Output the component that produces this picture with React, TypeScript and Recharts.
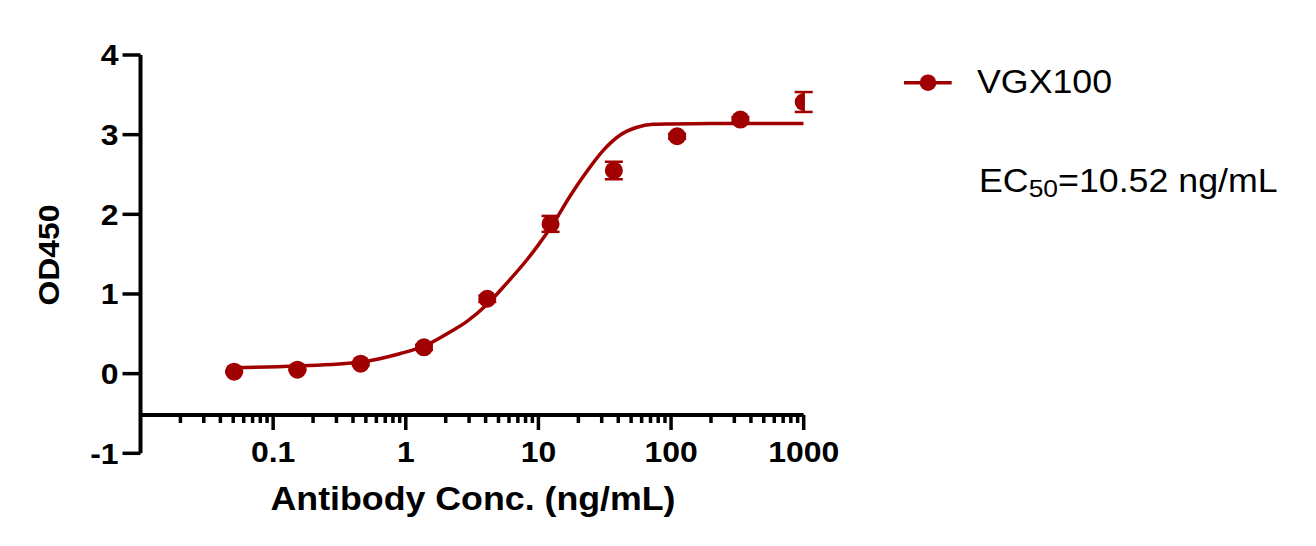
import React from 'react';
import { ComposedChart, Line, Scatter, ErrorBar, XAxis, YAxis, Legend } from 'recharts';

// ---------- data ----------
const CONC = [0.0508, 0.1524, 0.4572, 1.372, 4.115, 12.35, 37.04, 111.1, 333.3, 1000];
const OD_MEAN = [0.025, 0.05, 0.125, 0.33, 0.94, 1.88, 2.55, 2.98, 3.19, 3.41];
const OD_ERR = [0.01, 0.01, 0.02, 0.03, 0.04, 0.1, 0.11, 0.03, 0.03, 0.125];

const FIT_CONC = [0.0508, 0.15, 0.46, 0.9, 1.37, 2.14, 2.86, 4.17, 5.73, 8.11, 9.93, 12.9, 17.2, 23.0, 30.7, 40.9, 54.7, 73.1, 97.6, 200, 1000];
const FIT_OD = [0.075, 0.095, 0.146, 0.25, 0.345, 0.52, 0.65, 0.88, 1.13, 1.42, 1.61, 1.88, 2.22, 2.53, 2.8, 2.99, 3.09, 3.13, 3.135, 3.14, 3.14];

const Y_TICKS = [-1, 0, 1, 2, 3, 4];
const X_MAJOR_TICKS = [0.1, 1, 10, 100, 1000];
const X_MAJOR_LABELS = ['0.1', '1', '10', '100', '1000'];
const X_MINOR_TICKS = [
  0.02, 0.03, 0.04, 0.05, 0.06, 0.07, 0.08, 0.09,
  0.2, 0.3, 0.4, 0.5, 0.6, 0.7, 0.8, 0.9,
  2, 3, 4, 5, 6, 7, 8, 9,
  20, 30, 40, 50, 60, 70, 80, 90,
  200, 300, 400, 500, 600, 700, 800, 900,
];

const SERIES_NAME = 'VGX100';
const EC50_PREFIX = 'EC';
const EC50_SUB = '50';
const EC50_VALUE = '=10.52 ng/mL';
const X_TITLE = 'Antibody Conc. (ng/mL)';
const Y_TITLE = 'OD450';

const points = CONC.map((x, i) => ({ x, y: OD_MEAN[i], err: OD_ERR[i] }));
const curve = FIT_CONC.map((x, i) => ({ x, y: FIT_OD[i] }));

// ---------- layout ----------
const W = 1316;
const H = 546;
const PLOT_LEFT = 140.5;
const PLOT_RIGHT = 803.7;
const Y_TOP = 55;
const Y_BOTTOM = 453.3;
const X_AXIS_Y = 415;
const RED = '#A00000';
const FONT = '"Liberation Sans", Arial, Helvetica, sans-serif';
const SX = 1.1;

const YTick = (props: any) => {
  const { x, y, payload } = props;
  return (
    <text
      transform={`translate(${x},${y + 10.4}) scale(${SX},1)`}
      textAnchor="end"
      fontFamily={FONT}
      fontWeight="bold"
      fontSize={29}
      fill="#000"
    >
      {String(payload.value)}
    </text>
  );
};

const XTick = (props: any) => {
  const { x, y, payload } = props;
  const idx = X_MAJOR_TICKS.indexOf(payload.value);
  const major = idx >= 0;
  return (
    <g>
      <line x1={x} x2={x} y1={y} y2={y + (major ? 15 : 8)} stroke="#000" strokeWidth={3.5} />
      {major && (
        <text
          transform={`translate(${x},${y + 46.7}) scale(${SX},1)`}
          textAnchor="middle"
          fontFamily={FONT}
          fontWeight="bold"
          fontSize={29}
          fill="#000"
        >
          {X_MAJOR_LABELS[idx]}
        </text>
      )}
    </g>
  );
};

const YTitle = () => (
  <text
    transform={`translate(59.3,255) rotate(-90) scale(${SX},1)`}
    textAnchor="middle"
    fontFamily={FONT}
    fontWeight="bold"
    fontSize={29}
    fill="#000"
  >
    {Y_TITLE}
  </text>
);

const XTitle = () => (
  <text
    transform={`translate(473,510) scale(${SX},1)`}
    textAnchor="middle"
    fontFamily={FONT}
    fontWeight="bold"
    fontSize={32.5}
    fill="#000"
  >
    {X_TITLE}
  </text>
);

const LegendContent = () => (
  <svg width={W} height={H} style={{ display: 'block', position: 'absolute', left: 0, top: 0 }}>
    <line x1={904} x2={951.7} y1={82.7} y2={82.7} stroke={RED} strokeWidth={3.5} />
    <circle cx={928} cy={82.7} r={8.3} fill={RED} />
    <text
      transform={`translate(977,93.3) scale(${SX},1)`}
      fontFamily={FONT}
      fontSize={32.5}
      fill="#000"
    >
      {SERIES_NAME}
    </text>
    <text
      transform={`translate(979,191.7) scale(${SX},1)`}
      fontFamily={FONT}
      fontSize={32.5}
      fill="#000"
    >
      {EC50_PREFIX}
      <tspan fontSize={24} dy={5.6}>{EC50_SUB}</tspan>
      <tspan dy={-5.6}>{EC50_VALUE}</tspan>
    </text>
  </svg>
);

const Dot = (props: any) => {
  const { cx, cy } = props;
  if (cx == null || cy == null) return null;
  return <circle cx={cx} cy={cy} r={9} fill={RED} />;
};

export default function App() {
  return (
    <div style={{ position: 'absolute', left: 0, top: 0, width: W, height: H, background: '#fff' }}>
      <div style={{ position: 'absolute', left: 0, top: 0 }}>
        <ComposedChart
          width={W}
          height={H}
          margin={{ top: Y_TOP, right: W - PLOT_RIGHT, bottom: H - Y_BOTTOM, left: PLOT_LEFT - 100 }}
        >
          <XAxis
            dataKey="x"
            type="number"
            scale="log"
            domain={[0.01, 1000]}
            allowDataOverflow
            hide
          />
          <YAxis
            type="number"
            domain={[-1, 4]}
            ticks={Y_TICKS}
            interval={0}
            width={100}
            tickSize={18}
            tickMargin={4}
            axisLine={{ stroke: '#000', strokeWidth: 4 }}
            tickLine={{ stroke: '#000', strokeWidth: 3.5 }}
            tick={<YTick />}
            label={<YTitle />}
          />
          <Line
            data={curve}
            dataKey="y"
            type="monotone"
            stroke={RED}
            strokeWidth={3.5}
            dot={false}
            activeDot={false}
            isAnimationActive={false}
          />
          <Scatter data={points} dataKey="y" fill={RED} shape={<Dot />} isAnimationActive={false}>
            <ErrorBar dataKey="err" direction="y" width={9} stroke={RED} strokeWidth={2.5} />
          </Scatter>
          <Legend
            layout="horizontal"
            verticalAlign="middle"
            align="center"
            content={<LegendContent />}
            wrapperStyle={{ position: 'absolute', left: 0, top: 0, width: W, height: H, pointerEvents: 'none' }}
          />
        </ComposedChart>
      </div>
      <div style={{ position: 'absolute', left: 0, top: 0 }}>
        <ComposedChart
          width={W}
          height={H}
          data={points}
          margin={{ top: 0, right: W - PLOT_RIGHT, bottom: H - X_AXIS_Y - 60, left: PLOT_LEFT }}
        >
          <XAxis
            dataKey="x"
            type="number"
            scale="log"
            domain={[0.01, 1000]}
            allowDataOverflow
            ticks={[...X_MINOR_TICKS, ...X_MAJOR_TICKS]}
            interval={0}
            height={60}
            tickSize={0}
            tickMargin={0}
            tickLine={false}
            axisLine={{ stroke: '#000', strokeWidth: 4 }}
            tick={<XTick />}
            label={<XTitle />}
          />
          <YAxis hide type="number" domain={[-1, 4]} />
          <Line dataKey="y" stroke="transparent" dot={false} activeDot={false} isAnimationActive={false} />
        </ComposedChart>
      </div>
    </div>
  );
}
